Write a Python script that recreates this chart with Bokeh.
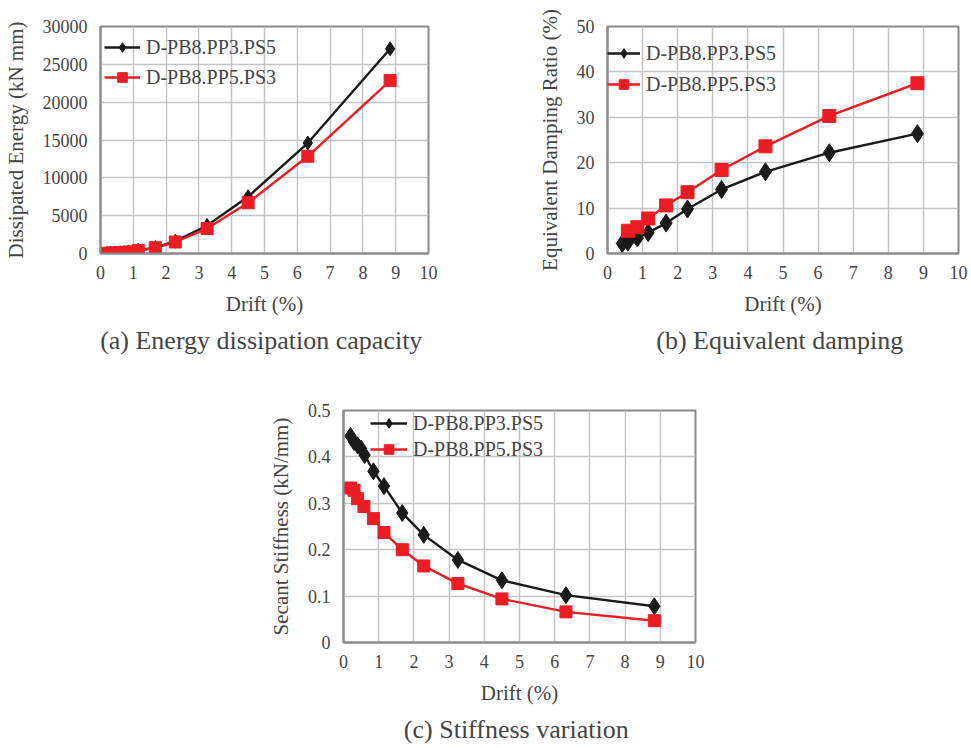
from bokeh.plotting import figure
from bokeh.layouts import column, row, Spacer
from bokeh.models import (Legend, LegendItem, Title, FixedTicker, CustomJSTickFormatter,
                          Range1d, InlineStyleSheet)
from bokeh.embed import file_html
from bokeh.resources import INLINE

# ---------------- data ----------------
x_ticks = [0, 1, 2, 3, 4, 5, 6, 7, 8, 9, 10]

# (a) Energy dissipation capacity
drift_a_black = [0.2, 0.3, 0.4, 0.5, 0.6, 0.85, 1.15, 1.67, 2.28, 3.25, 4.5, 6.32, 8.83]
energy_black = [15, 30, 50, 75, 110, 210, 400, 780, 1620, 3700, 7500, 14600, 27050]
drift_a_red = [0.2, 0.3, 0.4, 0.58, 0.85, 1.15, 1.67, 2.28, 3.25, 4.5, 6.32, 8.83]
energy_red = [20, 35, 60, 110, 210, 390, 760, 1520, 3300, 6700, 12850, 22850]
energy_ticks = [0, 5000, 10000, 15000, 20000, 25000, 30000]

# (b) Equivalent damping
drift_b_black = [0.42, 0.58, 0.85, 1.16, 1.67, 2.28, 3.25, 4.5, 6.32, 8.83]
damp_black = [2.2, 2.5, 3.4, 4.6, 6.7, 9.8, 14.1, 18.0, 22.2, 26.4]
drift_b_red = [0.58, 0.85, 1.16, 1.67, 2.28, 3.25, 4.5, 6.32, 8.83]
damp_red = [5.0, 5.8, 7.7, 10.6, 13.5, 18.4, 23.6, 30.3, 37.5]
damp_ticks = [0, 10, 20, 30, 40, 50]

# (c) Stiffness variation
drift_c_black = [0.2, 0.3, 0.4, 0.5, 0.6, 0.85, 1.15, 1.67, 2.28, 3.25, 4.5, 6.32, 8.83]
stiff_black = [0.445, 0.432, 0.425, 0.418, 0.404, 0.369, 0.337, 0.279, 0.232, 0.178, 0.134, 0.102, 0.078]
drift_c_red = [0.2, 0.3, 0.4, 0.58, 0.85, 1.15, 1.67, 2.28, 3.25, 4.5, 6.32, 8.83]
stiff_red = [0.333, 0.328, 0.31, 0.293, 0.267, 0.237, 0.2, 0.165, 0.127, 0.094, 0.066, 0.047]
stiff_ticks = [0, 0.1, 0.2, 0.3, 0.4, 0.5]

series_names = ["D-PB8.PP3.PS5", "D-PB8.PP5.PS3"]
captions = ["(a)  Energy dissipation capacity", "(b)  Equivalent damping", "(c)  Stiffness variation"]
y_labels = ["Dissipated Energy (kN mm)", "Equivalent Damping Ratio (%)", "Secant Stiffness (kN/mm)"]
x_label = "Drift (%)"

FONT = "Liberation Serif"
BLACK = "#1a1a1a"
RED = "#ed1c24"
GRID = "#c4c4c4"
FRAME = "#8a8a8a"

SERIF_CSS = """
:host { font-family: "Liberation Serif", serif; }
svg text { font-family: "Liberation Serif", serif !important; }
"""


def make_panel(w, h, left, right, top, bottom, ymax, yticks, ylabel, caption,
               xb, yb, xr, yr, legend_loc, glyph_w, row_h, spacing,
               dsize, ssize, yfmt=None):
    p = figure(width=w, height=h, output_backend="svg", toolbar_location=None,
               x_range=Range1d(0, 10), y_range=Range1d(0, ymax),
               min_border_left=left, min_border_right=right,
               min_border_top=top, min_border_bottom=bottom,
               stylesheets=[InlineStyleSheet(css=SERIF_CSS)])
    p.outline_line_color = FRAME
    p.outline_line_width = 2
    for ax in (p.xaxis[0], p.yaxis[0]):
        ax.axis_line_color = FRAME
        ax.axis_line_width = 2
        ax.major_tick_line_color = None
        ax.minor_tick_line_color = None
        ax.major_label_text_font = FONT
        ax.major_label_text_font_size = "18px"
        ax.axis_label_text_font = FONT
        ax.axis_label_text_font_size = "21px"
        ax.axis_label_text_font_style = "normal"
    p.xaxis[0].ticker = FixedTicker(ticks=x_ticks)
    p.yaxis[0].ticker = FixedTicker(ticks=yticks)
    if yfmt is not None:
        p.yaxis[0].formatter = yfmt
    p.xaxis[0].axis_label = x_label
    p.yaxis[0].axis_label = ylabel
    p.xaxis[0].major_label_standoff = 6
    p.xaxis[0].axis_label_standoff = 10
    p.yaxis[0].major_label_standoff = 7
    p.yaxis[0].axis_label_standoff = 12
    p.xgrid[0].ticker = FixedTicker(ticks=x_ticks)
    p.ygrid[0].ticker = FixedTicker(ticks=yticks)
    for g in (p.xgrid[0], p.ygrid[0]):
        g.grid_line_color = GRID
        g.grid_line_width = 1.5

    lb = p.line(xb, yb, line_color=BLACK, line_width=2.4)
    sb = p.scatter(xb, yb, marker="diamond", size=dsize, fill_color=BLACK, line_color=BLACK)
    lr = p.line(xr, yr, line_color=RED, line_width=2.4)
    sr = p.scatter(xr, yr, marker="square", size=ssize, fill_color=RED, line_color=RED)

    legend = Legend(items=[LegendItem(label=series_names[0], renderers=[lb, sb]),
                           LegendItem(label=series_names[1], renderers=[lr, sr])],
                    location=legend_loc, padding=0, margin=0,
                    spacing=spacing, glyph_width=glyph_w, glyph_height=row_h,
                    label_height=row_h, label_standoff=6,
                    label_text_font=FONT, label_text_font_size="20px",
                    background_fill_alpha=0, border_line_alpha=0)
    p.add_layout(legend, "center")

    t = Title(text=caption, align="center", text_font=FONT, text_font_size="26px",
              text_font_style="normal", standoff=10)
    p.add_layout(t, "below")
    return p


pct_fmt = CustomJSTickFormatter(code="return String(Math.round(tick*10)/10);")

# frame heights: a 231, b 230, c 242
pA = make_panel(485, 370, 97, 57, 22, 117, 30000, energy_ticks, y_labels[0], captions[0],
                drift_a_black, energy_black, drift_a_red, energy_red,
                (4, 164), 36, 24, 6, 14, 12)
pB = make_panel(486, 370, 122, 13, 26, 114, 50, damp_ticks, y_labels[1], captions[1],
                drift_b_black, damp_black, drift_b_red, damp_red,
                (0, 157), 33, 24, 7, 18, 13)
pC = make_panel(721, 378, 93, 276, 40, 96, 0.5, stiff_ticks, y_labels[2], captions[2],
                drift_c_black, stiff_black, drift_c_red, stiff_red,
                (27, 181), 37, 24, 2, 17, 12, yfmt=pct_fmt)

layout = column(row(pA, pB), row(Spacer(width=250, height=378), pC),
                stylesheets=[InlineStyleSheet(css=SERIF_CSS)])

open("out.html", "w").write(file_html(layout, INLINE))
